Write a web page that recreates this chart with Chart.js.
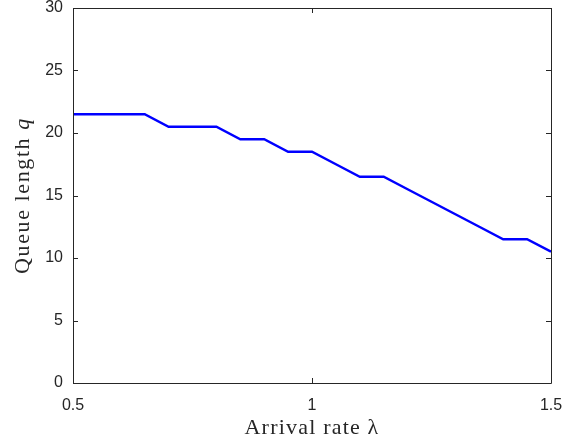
<!DOCTYPE html>
<html>
<head>
<meta charset="utf-8">
<script src="https://cdn.jsdelivr.net/npm/chart.js@4.4.1/dist/chart.umd.min.js"></script>
<style>
  html, body { margin: 0; padding: 0; background: #fff; }
  #wrap { width: 581px; height: 442px; }
</style>
</head>
<body>
<div id="wrap"><canvas id="queueChart" width="581" height="442"></canvas></div>
<script>
// data
var lambdaVals = [0.5, 0.55, 0.6, 0.65, 0.7, 0.75, 0.8, 0.85, 0.9, 0.95, 1.0,
                  1.05, 1.1, 1.15, 1.2, 1.25, 1.3, 1.35, 1.4, 1.45, 1.5];
var queueVals = [21.5, 21.5, 21.5, 21.5, 20.5, 20.5, 20.5, 19.5, 19.5, 18.5, 18.5,
                 17.5, 16.5, 16.5, 15.5, 14.5, 13.5, 12.5, 11.5, 11.5, 10.5];
var xTicks = [0.5, 1, 1.5];
var yTicks = [0, 5, 10, 15, 20, 25, 30];

var points = lambdaVals.map(function (x, i) { return { x: x, y: queueVals[i] }; });

var axisColor = '#262626';
var serif = '"Liberation Serif", "Times New Roman", serif';

// matlab style box with inward ticks on all four sides
var boxPlugin = {
    id: 'matlabBox',
    afterDraw: function (chart) {
        var ctx = chart.ctx;
        var a = chart.chartArea;
        var xs = chart.scales.x, ys = chart.scales.y;
        var len = 5;
        ctx.save();
        ctx.strokeStyle = axisColor;
        ctx.lineWidth = 1;
        ctx.beginPath();
        ctx.rect(Math.round(a.left) + 0.5, Math.round(a.top) + 0.5,
                 Math.round(a.right - a.left), Math.round(a.bottom - a.top));
        ctx.stroke();
        ctx.beginPath();
        xTicks.forEach(function (v) {
            var px = Math.round(xs.getPixelForValue(v)) + 0.5;
            ctx.moveTo(px, a.bottom); ctx.lineTo(px, a.bottom - len);
            ctx.moveTo(px, a.top); ctx.lineTo(px, a.top + len);
        });
        yTicks.forEach(function (v) {
            var py = Math.round(ys.getPixelForValue(v)) + 0.5;
            ctx.moveTo(a.left, py); ctx.lineTo(a.left + len, py);
            ctx.moveTo(a.right, py); ctx.lineTo(a.right - len, py);
        });
        ctx.stroke();
        ctx.restore();
    }
};

// axis labels, latex look: upright words, italic symbol
function drawLabel(ctx, parts, cx, cy, spacing) {
    ctx.letterSpacing = spacing + 'px';
    var widths = parts.map(function (p) {
        ctx.font = p[1] + ' 22px ' + serif;
        return ctx.measureText(p[0]).width;
    });
    var total = widths.reduce(function (s, w) { return s + w; }, 0);
    var x = cx - total / 2;
    parts.forEach(function (p, i) {
        ctx.font = p[1] + ' 22px ' + serif;
        ctx.fillText(p[0], x, cy);
        x += widths[i];
    });
}

var titlePlugin = {
    id: 'axisTitles',
    afterDraw: function (chart) {
        var ctx = chart.ctx;
        var a = chart.chartArea;
        ctx.save();
        ctx.fillStyle = axisColor;
        ctx.textAlign = 'left';
        ctx.textBaseline = 'middle';
        drawLabel(ctx, [['Arrival rate ', 'normal'], ['λ', 'normal']],
                  (a.left + a.right) / 2, 428, 1.2);
        ctx.translate(23, (a.top + a.bottom) / 2);
        ctx.rotate(-Math.PI / 2);
        drawLabel(ctx, [['Queue length ', 'normal'], ['q', 'italic']], 0, 0, 1.6);
        ctx.restore();
    }
};

var ctx = document.getElementById('queueChart').getContext('2d');
var myChart = new Chart(ctx, {
    type: 'line',
    data: {
        datasets: [{
            data: points,
            borderColor: '#0000ff',
            borderWidth: 2.5,
            pointRadius: 0,
            fill: false,
            tension: 0
        }]
    },
    options: {
        responsive: false,
        animation: false,
        layout: { padding: { left: 0, top: 8, right: 30, bottom: 0 } },
        plugins: {
            legend: { display: false },
            tooltip: { enabled: false }
        },
        scales: {
            x: {
                type: 'linear',
                min: 0.5,
                max: 1.5,
                afterFit: function (s) {
                    s.height = 59;
                    s.paddingLeft = 0;
                    s.paddingRight = 0;
                },
                afterBuildTicks: function (s) {
                    s.ticks = xTicks.map(function (v) { return { value: v }; });
                },
                grid: { display: false, drawTicks: false },
                border: { display: false },
                ticks: {
                    color: axisColor,
                    padding: 13,
                    maxRotation: 0,
                    font: { family: '"Liberation Sans", Arial, sans-serif', size: 16 },
                    callback: function (v) { return String(v); }
                }
            },
            y: {
                min: 0,
                max: 30,
                afterFit: function (s) {
                    s.width = 73;
                    s.paddingTop = 0;
                    s.paddingBottom = 0;
                },
                afterBuildTicks: function (s) {
                    s.ticks = yTicks.map(function (v) { return { value: v }; });
                },
                grid: { display: false, drawTicks: false },
                border: { display: false },
                ticks: {
                    color: axisColor,
                    padding: 10,
                    font: { family: '"Liberation Sans", Arial, sans-serif', size: 16 }
                }
            }
        }
    },
    plugins: [boxPlugin, titlePlugin]
});
</script>
</body>
</html>
